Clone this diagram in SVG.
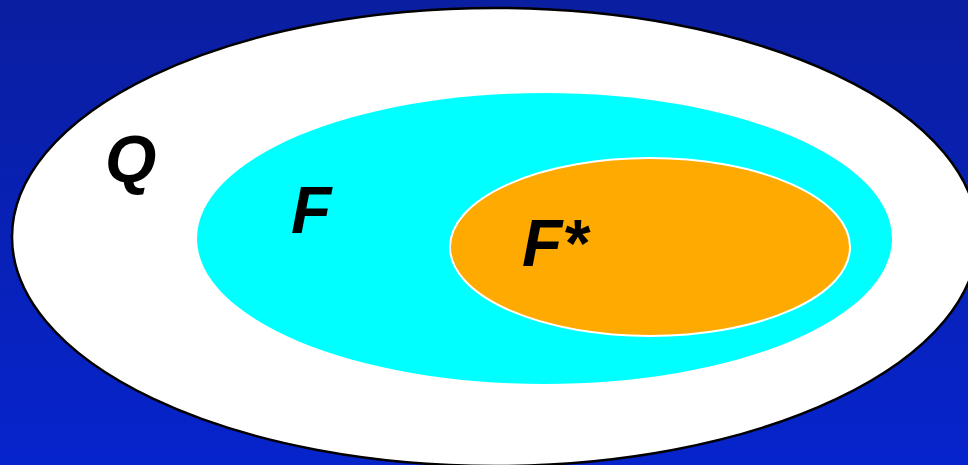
<svg xmlns="http://www.w3.org/2000/svg" width="968" height="465" viewBox="0 0 968 465">
<defs>
<linearGradient id="bg" x1="0" y1="0" x2="0" y2="1">
<stop offset="0" stop-color="#0a1ea0"/>
<stop offset="1" stop-color="#0624cc"/>
</linearGradient>
</defs>
<style>
.lbl{font-family:"Liberation Sans",Arial,sans-serif;font-weight:bold;font-style:italic;font-size:66px;fill:#000}
</style>
<rect width="968" height="465" fill="url(#bg)"/>
<g id="Q">
<ellipse cx="495" cy="237" rx="483" ry="229" fill="#fff" stroke="#000" stroke-width="2.5"/>
<text class="lbl" x="105" y="182">Q</text>
</g>
<g id="F">
<ellipse cx="544.5" cy="238.5" rx="347.5" ry="145.5" fill="#00ffff"/>
<text class="lbl" x="291" y="233">F</text>
</g>
<g id="Fstar">
<ellipse cx="650" cy="247" rx="200" ry="89" fill="#ffaa00" stroke="#fff" stroke-width="2"/>
<text class="lbl" x="522" y="266">F*</text>
</g>
<g id="connectors"/>
</svg>
